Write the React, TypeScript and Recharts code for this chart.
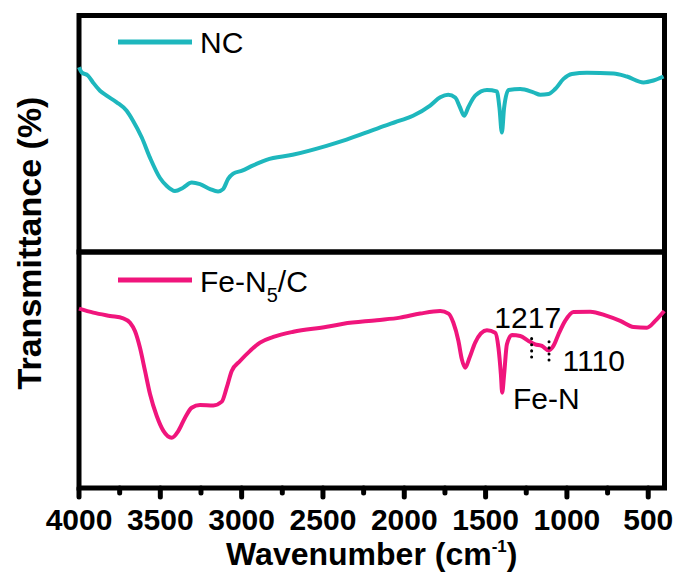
import { Legend, Line, LineChart, ReferenceArea, ReferenceDot, ReferenceLine, XAxis, YAxis } from 'recharts';

// NC spectrum (wavenumber cm-1 / relative transmittance)
const ncWave = [
    4000, 3983, 3945, 3914, 3871, 3830, 3768, 3707, 3668, 3614, 3563, 3502, 3460, 3410, 3360, 3307, 3256, 3194,
    3145, 3114, 3083, 3052, 2997, 2936, 2887, 2847, 2687, 2478, 2355, 2171, 2029, 1946, 1841, 1779, 1730, 1687,
    1657, 1632, 1607, 1564, 1492, 1431, 1415, 1400, 1386, 1359, 1287, 1206, 1164, 1113, 1072, 1021, 969, 877,
    713, 631, 529, 468, 406,
];
const ncValue = [
    78.1, 75.9, 74.6, 71.7, 68.2, 66.1, 63.3, 59.7, 55.5, 48.4, 39.8, 31.3, 27.9, 25.8, 27.2, 29.4, 28.7, 26.6,
    25.6, 26.6, 30.9, 33.1, 34.4, 36.4, 37.9, 39.0, 41.1, 44.9, 47.5, 52.1, 55.5, 57.6, 61.9, 65.4, 66.5, 65.3,
    61.1, 57.6, 61.1, 66.1, 68.5, 67.9, 61.1, 50.5, 61.1, 68.5, 68.9, 67.5, 66.5, 66.8, 68.9, 73.2, 75.3, 75.8,
    75.5, 74.2, 71.7, 72.5, 74.2,
];

// Fe-N5/C spectrum
const feWave = [
    4000, 3912, 3809, 3728, 3686, 3656, 3625, 3594, 3563, 3522, 3481, 3430, 3389, 3348, 3307, 3256, 3174, 3122,
    3092, 3061, 3010, 2948, 2887, 2805, 2682, 2476, 2374, 2169, 2026, 1902, 1779, 1728, 1698, 1667, 1646, 1626,
    1599, 1564, 1492, 1441, 1421, 1406, 1398, 1386, 1369, 1338, 1287, 1236, 1195, 1154, 1113, 1083, 1052, 1011,
    960, 857, 754, 672, 590, 508, 457, 402,
];
const feValue = [
    76.0, 74.3, 72.9, 71.9, 70.0, 66.5, 59.4, 49.6, 39.7, 30.5, 24.2, 21.3, 24.2, 29.8, 34.0, 35.2, 35.0, 36.6,
    42.5, 49.6, 53.8, 58.1, 61.6, 64.0, 66.2, 68.3, 69.6, 71.1, 72.2, 73.9, 75.0, 73.9, 70.0, 62.3, 54.5, 51.0,
    55.2, 61.6, 66.8, 65.8, 59.4, 48.2, 40.4, 48.2, 60.9, 64.8, 64.4, 62.3, 60.9, 60.2, 58.3, 60.2, 65.1, 70.8,
    74.6, 74.7, 72.9, 70.8, 68.2, 67.9, 70.8, 75.0,
];

const xTicks = [4000, 3750, 3500, 3250, 3000, 2750, 2500, 2250, 2000, 1750, 1500, 1250, 1000, 750, 500];

const annotations = [
    { text: '1217', wave: 1241, value: 67.8 },
    { text: '1110', wave: 835, value: 49.6 },
    { text: 'Fe-N', wave: 1127, value: 33.5 },
];
const markers = [
    { wave: 1217, from: 55.5, to: 64.0 },
    { wave: 1110, from: 54.2, to: 63.1 },
];

const ncData = ncWave.map((w, i) => ({ w, t: ncValue[i] }));
const feData = feWave.map((w, i) => ({ w, t: feValue[i] }));

const FONT = '"Liberation Sans", Arial, sans-serif';
const TEAL = '#1EB7BD';
const PINK = '#F0157C';

function WaveTick(props: any) {
    const { x, y, payload } = props;
    const major = payload.value % 500 === 0;
    return (
        <g>
            <line x1={x} x2={x} y1={y} y2={y + (major ? 9 : 5)} stroke="#000" strokeWidth={5} strokeLinecap="round" />
            {major && (
                <text x={x} y={y + 42} textAnchor="middle" fontFamily={FONT} fontWeight="bold" fontSize={30} fill="#000">
                    {payload.value}
                </text>
            )}
        </g>
    );
}

function WaveTitle(props: any) {
    const { viewBox } = props;
    const cx = viewBox.x + viewBox.width / 2;
    return (
        <text x={cx} y={viewBox.y + 77} textAnchor="middle" fontFamily={FONT} fontWeight="bold" fontSize={32} fill="#000">
            Wavenumber (cm
            <tspan fontSize={17} dy={-13}>-1</tspan>
            <tspan dy={13}>)</tspan>
        </text>
    );
}

function TransTitle() {
    return (
        <text
            x={41}
            y={243}
            transform="rotate(-90, 41, 243)"
            textAnchor="middle"
            fontFamily={FONT}
            fontWeight="bold"
            fontSize={34}
            fill="#000"
        >
            Transmittance (%)
        </text>
    );
}

function LegendNC() {
    return (
        <svg width={300} height={50}>
            <line x1={18} x2={92} y1={22} y2={22} stroke={TEAL} strokeWidth={5} />
            <text x={100} y={33} fontFamily={FONT} fontSize={30} fill="#000">
                NC
            </text>
        </svg>
    );
}

function LegendFe() {
    return (
        <svg width={300} height={50}>
            <line x1={18} x2={92} y1={20} y2={20} stroke={PINK} strokeWidth={5} />
            <text x={100} y={32} fontFamily={FONT} fontSize={30} fill="#000">
                Fe-N
                <tspan fontSize={20} dy={10}>5</tspan>
                <tspan dy={-10}>/C</tspan>
            </text>
        </svg>
    );
}

function Note(props: any) {
    const { cx, cy, text } = props;
    return (
        <text x={cx} y={cy} textAnchor="middle" fontFamily={FONT} fontSize={30} fill="#000">
            {text}
        </text>
    );
}

export default function App() {
    return (
        <div style={{ position: 'absolute', left: 0, top: 0, width: 678, height: 580, background: '#fff' }}>
            <div style={{ position: 'absolute', left: 0, top: 0 }}>
                <LineChart width={678} height={260} data={ncData} margin={{ top: 15.5, right: 13.5, left: 79, bottom: 8 }}>
                    <XAxis dataKey="w" type="number" domain={[400, 4000]} reversed hide />
                    <YAxis domain={[0, 100]} hide />
                    <Line
                        dataKey="t"
                        type="monotone"
                        stroke={TEAL}
                        strokeWidth={4}
                        strokeLinejoin="round"
                        dot={false}
                        isAnimationActive={false}
                    />
                    <ReferenceArea x1={400} x2={4000} y1={0} y2={100} fill="none" stroke="#000" strokeWidth={5} ifOverflow="visible" />
                    <Legend
                        layout="vertical"
                        align="center"
                        verticalAlign="middle"
                        wrapperStyle={{ left: 100, top: 20, width: 300, height: 50 }}
                        content={() => <LegendNC />}
                    />
                </LineChart>
            </div>
            <div style={{ position: 'absolute', left: 0, top: 0 }}>
                <LineChart width={678} height={580} data={feData} margin={{ top: 252, right: 13.5, left: 0, bottom: 32 }}>
                    <XAxis
                        dataKey="w"
                        type="number"
                        domain={[400, 4000]}
                        reversed
                        ticks={xTicks}
                        interval={0}
                        axisLine={false}
                        tickLine={false}
                        tickSize={0}
                        tickMargin={0}
                        height={60}
                        tick={<WaveTick />}
                        label={<WaveTitle />}
                    />
                    <YAxis
                        domain={[0, 100]}
                        width={79}
                        tick={false}
                        axisLine={false}
                        tickLine={false}
                        label={<TransTitle />}
                    />
                    <Line
                        dataKey="t"
                        type="monotone"
                        stroke={PINK}
                        strokeWidth={4}
                        strokeLinejoin="round"
                        dot={false}
                        isAnimationActive={false}
                    />
                    {markers.map((m) => (
                        <ReferenceLine
                            key={m.wave}
                            segment={[
                                { x: m.wave, y: m.from },
                                { x: m.wave, y: m.to },
                            ]}
                            stroke="#000"
                            strokeWidth={3}
                            strokeDasharray="0.1 6"
                            strokeLinecap="round"
                        />
                    ))}
                    {annotations.map((a) => (
                        <ReferenceDot
                            key={a.text}
                            x={a.wave}
                            y={a.value}
                            r={0}
                            ifOverflow="visible"
                            shape={(p: any) => <Note {...p} text={a.text} />}
                        />
                    ))}
                    <ReferenceArea x1={400} x2={4000} y1={0} y2={100} fill="none" stroke="#000" strokeWidth={5} ifOverflow="visible" />
                    <Legend
                        layout="vertical"
                        align="center"
                        verticalAlign="middle"
                        wrapperStyle={{ left: 100, top: 260, width: 300, height: 50 }}
                        content={() => <LegendFe />}
                    />
                </LineChart>
            </div>
        </div>
    );
}
